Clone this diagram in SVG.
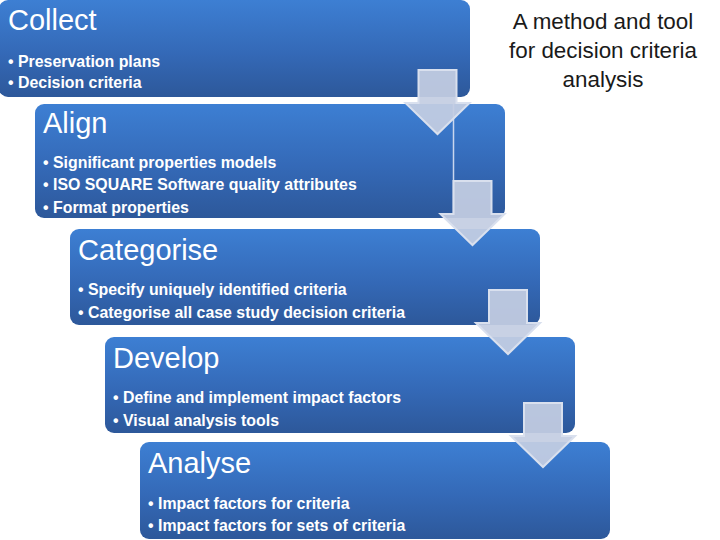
<svg xmlns="http://www.w3.org/2000/svg" width="720" height="540" viewBox="0 0 720 540">
<defs>
<linearGradient id="g" x1="0" y1="0" x2="0" y2="1">
<stop offset="0" stop-color="#3d7fd3"/>
<stop offset="0.55" stop-color="#3469b7"/>
<stop offset="1" stop-color="#2d589a"/>
</linearGradient>
<path id="arr" d="M-19,0 H19 V33 H32 L0,64 L-32,33 H-19 Z"/>
<style>
.box{fill:url(#g);}
.title{font-family:"Liberation Sans",Arial,sans-serif;font-size:29px;fill:#ffffff;}
.bul{font-family:"Liberation Sans",Arial,sans-serif;font-size:15.9px;font-weight:bold;fill:#ffffff;}
.cap{font-family:"Liberation Sans",Arial,sans-serif;font-size:22.4px;fill:#1a1a1a;text-anchor:middle;}
.arrow{fill:#c4cde2;fill-opacity:0.93;stroke:#d9e0ee;stroke-width:2;stroke-linejoin:miter;}
</style>
</defs>
<rect width="720" height="540" fill="#ffffff"/>

<g id="collect">
<rect class="box" x="-1" y="0" width="471" height="97" rx="9"/>
<text class="title" x="8" y="30">Collect</text>
<text class="bul" x="8" y="67">• Preservation plans</text>
<text class="bul" x="8" y="88">• Decision criteria</text>
</g>

<g id="align">
<rect class="box" x="35" y="104" width="470" height="114" rx="9"/>
<text class="title" x="43" y="133">Align</text>
<text class="bul" x="43" y="168">• Significant properties models</text>
<text class="bul" x="43" y="190">• ISO SQUARE Software quality attributes</text>
<text class="bul" x="43" y="213">• Format properties</text>
</g>

<g id="categorise">
<rect class="box" x="70" y="229" width="470" height="96" rx="9"/>
<text class="title" x="78" y="260">Categorise</text>
<text class="bul" x="78" y="295">• Specify uniquely identified criteria</text>
<text class="bul" x="78" y="318">• Categorise all case study decision criteria</text>
</g>

<g id="develop">
<rect class="box" x="105" y="337" width="470" height="96" rx="9"/>
<text class="title" x="113" y="368">Develop</text>
<text class="bul" x="113" y="403">• Define and implement impact factors</text>
<text class="bul" x="113" y="426">• Visual analysis tools</text>
</g>

<g id="analyse">
<rect class="box" x="140" y="442" width="470" height="97" rx="9"/>
<text class="title" x="148" y="473">Analyse</text>
<text class="bul" x="148" y="509">• Impact factors for criteria</text>
<text class="bul" x="148" y="531">• Impact factors for sets of criteria</text>
</g>

<g id="connectors">
<line x1="453.5" y1="104" x2="453.5" y2="215" stroke="#c9d6ee" stroke-width="1.5"/>
<use href="#arr" class="arrow" transform="translate(437.5,70)"/>
<use href="#arr" class="arrow" transform="translate(472.5,181)"/>
<use href="#arr" class="arrow" transform="translate(508,290)"/>
<use href="#arr" class="arrow" transform="translate(543,403)"/>
</g>

<g id="caption">
<text class="cap" x="603" y="29">A method and tool</text>
<text class="cap" x="603" y="58">for decision criteria</text>
<text class="cap" x="603" y="87">analysis</text>
</g>
</svg>
